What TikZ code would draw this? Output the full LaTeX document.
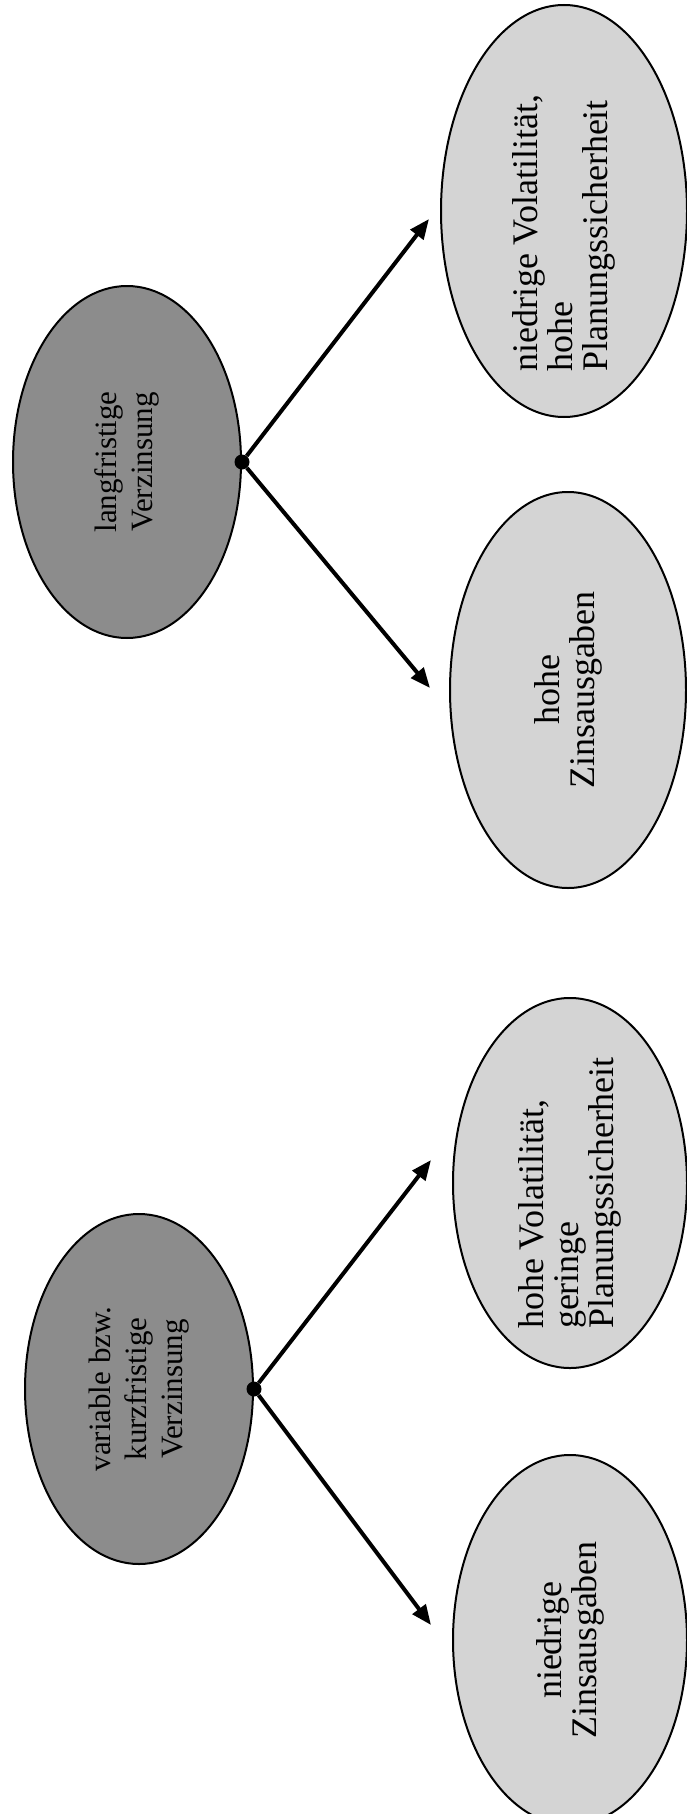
\documentclass[tikz,border=0pt]{standalone}
\usepackage{fontspec}
\setmainfont{Liberation Serif}
\usetikzlibrary{shapes.geometric,arrows.meta}
\begin{document}
\begin{tikzpicture}[x=1pt,y=-1pt,
  darkell/.style={ellipse, draw=black, line width=2pt, fill=black!45, inner xsep=-40pt, inner ysep=-20pt, rotate=90, font=\fontsize{31}{36}\selectfont, align=center},
  lightell/.style={ellipse, draw=black, line width=2pt, fill=black!17, inner xsep=-40pt, inner ysep=-20pt, rotate=90, font=\fontsize{36}{35}\selectfont},
  hub/.style={circle, fill=black, inner sep=0pt, minimum size=15pt},
  arr/.style={line width=4pt, -{Triangle[length=20pt,width=16pt]}}
]
\fill[white] (0,0) rectangle (686,1814);
\useasboundingbox (0,0) rectangle (686,1814);

\node[darkell, minimum width=352pt, minimum height=228pt] (A) at (127,462) {langfristige\\Verzinsung};
\node[lightell, align=left, minimum width=412pt, minimum height=246pt] (B) at (564,211) {niedrige Volatilität,\\hohe\\Planungssicherheit\hspace*{50pt}};
\node[lightell, align=center, minimum width=396pt, minimum height=236pt] (C) at (568,690) {hohe\\Zinsausgaben};
\node[lightell, align=left, minimum width=370pt, minimum height=234pt] (D) at (570,1183) {hohe Volatilität,\\geringe\\Planungssicherheit\hspace*{20pt}};
\node[lightell, align=center, minimum width=370pt, minimum height=234pt] (E) at (570,1640) {niedrige\\Zinsausgaben};
\node[darkell, minimum width=350pt, minimum height=228pt] (F) at (139,1389) {variable bzw.\\kurzfristige\\Verzinsung};

\node[hub] (a) at (A.south) {};
\node[hub] (f) at (F.south) {};

\coordinate (tB) at (429,219);
\coordinate (tC) at (430,688);
\coordinate (tD) at (431,1160);
\coordinate (tE) at (431,1625);

\draw[arr] (a) -- (tB);
\draw[arr] (a) -- (tC);
\draw[arr] (f) -- (tD);
\draw[arr] (f) -- (tE);
\end{tikzpicture}
\end{document}
